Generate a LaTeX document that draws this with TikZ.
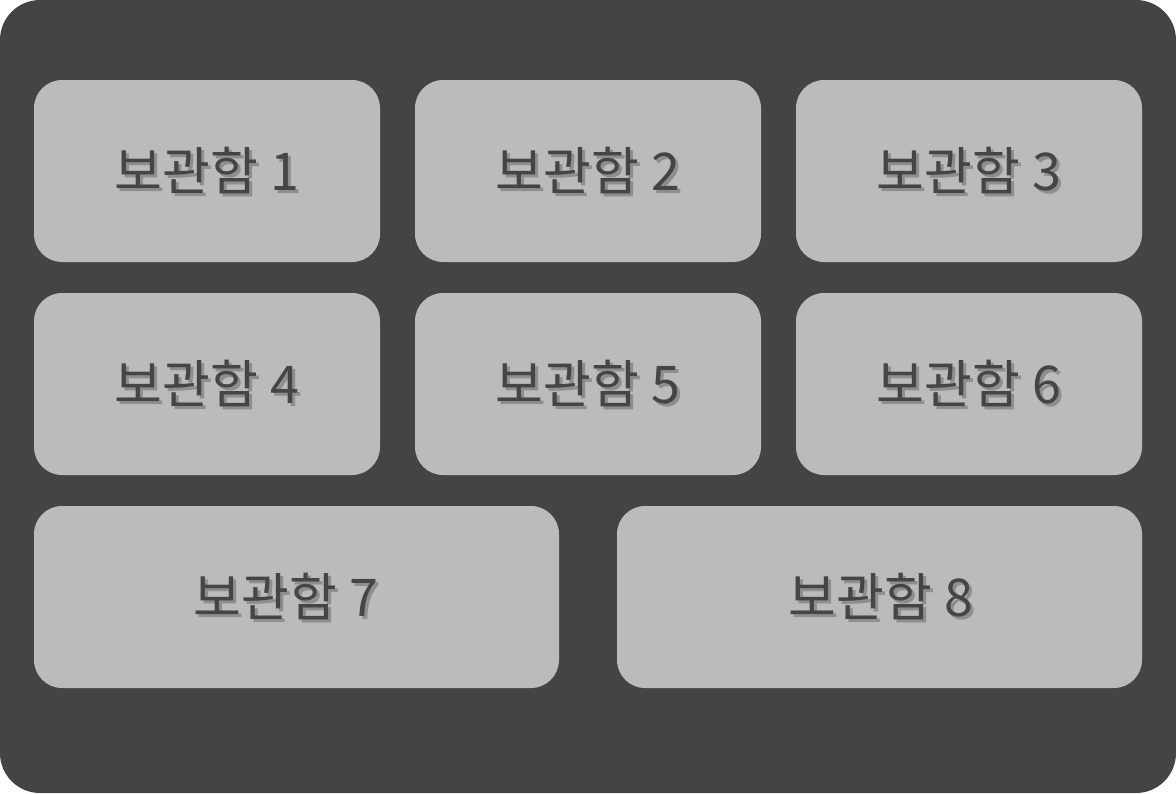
\documentclass[tikz,border=0pt]{standalone}
\usepackage{fontspec}
\usepackage{xcolor}
\usepackage{tikz}
\usetikzlibrary{positioning,calc}
\newfontfamily\korean{Noto Sans CJK KR}

\definecolor{framegray}{HTML}{444444}
\definecolor{boxgray}{HTML}{BBBBBB}
\definecolor{labelgray}{HTML}{454545}
\definecolor{shadowgray}{HTML}{8E8E8E}

% label text with a soft drop shadow
\newcommand{\shadowed}[1]{\makebox[0pt][l]{\hspace{3pt}\raisebox{-3pt}{\textcolor{shadowgray}{#1}}}#1}

\tikzset{
    lockerbox/.style={fill=boxgray, rounded corners=28pt, inner sep=0pt},
    lockerlabel/.style={text=labelgray, font=\korean\fontsize{52}{60}\selectfont, inner sep=0pt}
}

\begin{document}
\begin{tikzpicture}[x=1pt, y=-1pt]
    % Frame
    \fill[framegray, rounded corners=40pt] (0,0) rectangle (1176,793);
    \useasboundingbox (0,0) rectangle (1176,793);

    % Row 1
    \fill[lockerbox] (34,80) rectangle (380,262);  \coordinate (c1) at (207,172);
    \fill[lockerbox] (415,80) rectangle (761,262); \coordinate (c2) at (588,172);
    \fill[lockerbox] (796,80) rectangle (1142,262); \coordinate (c3) at (969,172);
    % Row 2
    \fill[lockerbox] (34,293) rectangle (380,475);  \coordinate (c4) at (207,385);
    \fill[lockerbox] (415,293) rectangle (761,475); \coordinate (c5) at (588,385);
    \fill[lockerbox] (796,293) rectangle (1142,475); \coordinate (c6) at (969,385);
    % Row 3
    \fill[lockerbox] (34,506) rectangle (559,688);  \coordinate (c7) at (286,598);
    \fill[lockerbox] (617,506) rectangle (1142,688); \coordinate (c8) at (881,598);

    % Labels
    \node[lockerlabel] (label1) at (c1) {\shadowed{보관함 1}};
    \node[lockerlabel] (label2) at (c2) {\shadowed{보관함 2}};
    \node[lockerlabel] (label3) at (c3) {\shadowed{보관함 3}};
    \node[lockerlabel] (label4) at (c4) {\shadowed{보관함 4}};
    \node[lockerlabel] (label5) at (c5) {\shadowed{보관함 5}};
    \node[lockerlabel] (label6) at (c6) {\shadowed{보관함 6}};
    \node[lockerlabel] (label7) at (c7) {\shadowed{보관함 7}};
    \node[lockerlabel] (label8) at (c8) {\shadowed{보관함 8}};
\end{tikzpicture}
\end{document}
